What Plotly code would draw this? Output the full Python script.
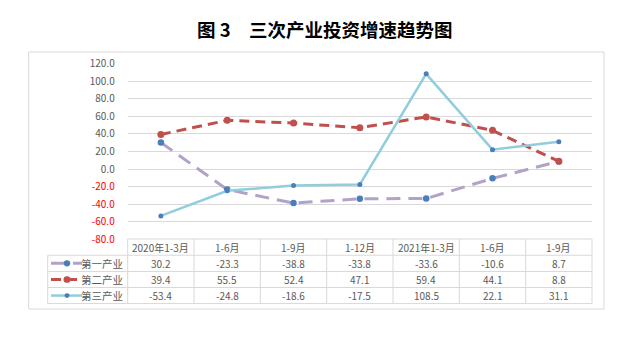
import plotly.graph_objects as go

# ---- data ----
periods = ["2020年1-3月", "1-6月", "1-9月", "1-12月", "2021年1-3月", "1-6月", "1-9月"]
series_names = ["第一产业", "第二产业", "第三产业"]
primary = [30.2, -23.3, -38.8, -33.8, -33.6, -10.6, 8.7]
secondary = [39.4, 55.5, 52.4, 47.1, 59.4, 44.1, 8.8]
tertiary = [-53.4, -24.8, -18.6, -17.5, 108.5, 22.1, 31.1]
y_ticks = [-80, -60, -40, -20, 0, 20, 40, 60, 80, 100, 120]
title_text = "图 3　三次产业投资增速趋势图"

# ---- layout helpers (pixel -> paper) ----
W, H = 640, 337
def px(x):
    return x / W
def py(y):
    return 1 - y / H

PLOT_L, PLOT_R = 127.7, 592.0
PLOT_T, PLOT_B = 57.3, 241.0
ROW_EDGES = [240.7, 257.7, 274.7, 291.5, 308.3]
GRID = "#d9d9d9"
TXT = "#595959"
FONT = "Noto Sans CJK SC"

styles = [
    dict(line=dict(color="#b3a2c7", width=3, dash="14px,8px"), marker=dict(color="#4a7ebb", size=6.5)),
    dict(line=dict(color="#c0504d", width=3, dash="10px,6px"), marker=dict(color="#c0504d", size=7)),
    dict(line=dict(color="#92cddc", width=2.5, dash="solid"), marker=dict(color="#4a7ebb", size=5)),
]
values = [primary, secondary, tertiary]
xs = list(range(len(periods)))

fig = go.Figure()
for name, vals, st in zip(series_names, values, styles):
    fig.add_trace(go.Scatter(x=xs, y=vals, name=name, mode="lines+markers",
                             line=st["line"], marker=st["marker"], showlegend=False))

ticktext = []
for v in y_ticks:
    s = f"{v:.1f}"
    if v < 0:
        s = f"<span style='color:#ff0000'>{s}</span>"
    ticktext.append(s)

shapes = []
annotations = []

# outer border
shapes.append(dict(type="rect", xref="paper", yref="paper", x0=px(28.7), x1=px(604), y0=py(45), y1=py(314),
                   line=dict(color=GRID, width=1)))

# table lines
col_w = (PLOT_R - PLOT_L) / len(periods)
shapes.append(dict(type="line", xref="paper", yref="paper", x0=px(PLOT_L), x1=px(PLOT_R),
                   y0=py(ROW_EDGES[0]), y1=py(ROW_EDGES[0]), line=dict(color=GRID, width=1)))
for ye in ROW_EDGES[1:]:
    shapes.append(dict(type="line", xref="paper", yref="paper", x0=px(47.7), x1=px(PLOT_R),
                       y0=py(ye), y1=py(ye), line=dict(color=GRID, width=1)))
shapes.append(dict(type="line", xref="paper", yref="paper", x0=px(47.7), x1=px(47.7),
                   y0=py(ROW_EDGES[1]), y1=py(ROW_EDGES[-1]), line=dict(color=GRID, width=1)))
for i in range(len(periods) + 1):
    xe = PLOT_L + i * col_w
    shapes.append(dict(type="line", xref="paper", yref="paper", x0=px(xe), x1=px(xe),
                       y0=py(ROW_EDGES[0]), y1=py(ROW_EDGES[-1]), line=dict(color=GRID, width=1)))

# header text
hdr_y = (ROW_EDGES[0] + ROW_EDGES[1]) / 2
for i, p in enumerate(periods):
    annotations.append(dict(x=i, y=py(hdr_y), xref="x", yref="paper", text=p, showarrow=False,
                            font=dict(family=FONT, size=10, color=TXT), xanchor="center", yanchor="middle"))

# rows
for r, (name, vals, st) in enumerate(zip(series_names, values, styles)):
    yc = (ROW_EDGES[r + 1] + ROW_EDGES[r + 2]) / 2
    for i, v in enumerate(vals):
        annotations.append(dict(x=i, y=py(yc), xref="x", yref="paper", text=f"{v:.1f}", showarrow=False,
                                font=dict(family=FONT, size=10, color=TXT), xanchor="center", yanchor="middle"))
    annotations.append(dict(x=px(124.5), y=py(yc), xref="paper", yref="paper", text=name, showarrow=False,
                            font=dict(family=FONT, size=10.5, color=TXT), xanchor="right", yanchor="middle"))
    ln = st["line"]
    shapes.append(dict(type="line", xref="paper", yref="paper", x0=px(51), x1=px(82), y0=py(yc), y1=py(yc),
                       line=dict(color=ln["color"], width=ln["width"], dash=ln["dash"])))
    rad = st["marker"]["size"] / 2
    shapes.append(dict(type="circle", xref="paper", yref="paper", x0=px(67 - rad), x1=px(67 + rad),
                       y0=py(yc + rad), y1=py(yc - rad), fillcolor=st["marker"]["color"],
                       line=dict(color=st["marker"]["color"], width=0)))

# title
annotations.append(dict(x=px(325), y=py(21), xref="paper", yref="paper", text=f"<b>{title_text}</b>",
                        showarrow=False, font=dict(family=FONT, size=18.5, color="#000000"),
                        xanchor="center", yanchor="middle"))

fig.update_layout(
    width=W, height=H, margin=dict(l=0, r=0, t=0, b=0),
    paper_bgcolor="white", plot_bgcolor="white",
    xaxis=dict(domain=[px(PLOT_L), px(PLOT_R)], range=[-0.5, len(periods) - 0.5],
               showticklabels=False, showgrid=False, zeroline=False, showline=False, ticks=""),
    yaxis=dict(domain=[py(PLOT_B), py(PLOT_T)], range=[-80, 120], tickvals=y_ticks, ticktext=ticktext,
               showgrid=True, gridcolor=GRID, gridwidth=1, zeroline=False, showline=False, ticks="",
               tickfont=dict(family=FONT, size=10, color=TXT), ticklabelstandoff=12),
    shapes=shapes, annotations=annotations,
)

fig.write_html("out.html")
